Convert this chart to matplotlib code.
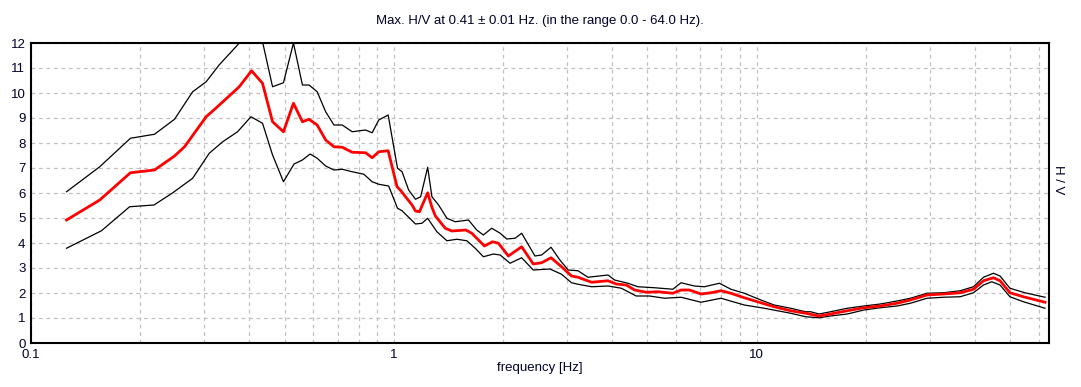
import matplotlib.pyplot as plt
from matplotlib.ticker import FixedLocator, NullFormatter
import numpy as np

# mittlere H/V-Kurve
f_avg = [0.1253, 0.1547, 0.188, 0.219, 0.2487, 0.265, 0.304, 0.3265, 0.375, 0.4055,
         0.4347, 0.4633, 0.4965, 0.529, 0.560, 0.584, 0.615, 0.649, 0.684, 0.721,
         0.768, 0.836, 0.872, 0.909, 0.965, 1.021, 1.042, 1.123, 1.148, 1.177,
         1.240, 1.274, 1.302, 1.387, 1.446, 1.580, 1.641, 1.778, 1.871, 1.943,
         2.070, 2.252, 2.424, 2.556, 2.713, 2.901, 3.09, 3.22, 3.51, 3.896,
         4.108, 4.375, 4.613, 4.966, 5.346, 5.877, 6.195, 6.533, 7.03, 7.49,
         7.98, 8.50, 9.25, 10.06, 11.18, 12.42, 13.66, 14.87, 16.0, 17.78,
         19.77, 21.95, 24.39, 26.55, 29.5, 32.78, 36.41, 39.63, 42.23, 44.98,
         46.9, 49.95, 54.4, 62.4]
hv_avg = [4.92, 5.72, 6.81, 6.92, 7.48, 7.85, 9.05, 9.45, 10.25, 10.89,
          10.39, 8.85, 8.45, 9.59, 8.85, 8.95, 8.72, 8.12, 7.85, 7.83,
          7.63, 7.61, 7.41, 7.65, 7.69, 6.25, 6.12, 5.52, 5.28, 5.25,
          6.01, 5.43, 5.08, 4.59, 4.48, 4.52, 4.39, 3.88, 4.05, 3.99,
          3.48, 3.85, 3.16, 3.21, 3.41, 3.05, 2.68, 2.63, 2.43, 2.49,
          2.36, 2.32, 2.12, 2.03, 2.05, 1.99, 2.12, 2.12, 1.96, 2.01,
          2.09, 1.99, 1.81, 1.65, 1.45, 1.29, 1.19, 1.08, 1.16, 1.29,
          1.41, 1.48, 1.59, 1.72, 1.92, 1.96, 2.01, 2.15, 2.49, 2.61,
          2.49, 2.01, 1.85, 1.63]

# obere Kurve
f_max = [0.1253, 0.1547, 0.188, 0.219, 0.2487, 0.279, 0.304, 0.330, 0.371, 0.4055,
         0.4347, 0.4633, 0.4965, 0.529, 0.560, 0.584, 0.615, 0.649, 0.684, 0.721,
         0.768, 0.836, 0.872, 0.909, 0.965, 1.024, 1.054, 1.099, 1.148, 1.186,
         1.240, 1.274, 1.329, 1.401, 1.477, 1.607, 1.693, 1.766, 1.862, 1.965,
         2.048, 2.160, 2.252, 2.45, 2.556, 2.713, 2.87, 3.025, 3.22, 3.43,
         3.896, 4.06, 4.42, 4.71, 5.24, 5.877, 6.195, 6.74, 7.18, 7.90,
         8.50, 9.25, 10.28, 11.18, 12.42, 13.66, 14.1, 14.87, 16.0, 17.78,
         19.77, 21.95, 24.39, 26.55, 29.5, 32.78, 36.41, 39.63, 42.23, 44.98,
         46.9, 49.95, 54.9, 62.4]
hv_max = [6.05, 7.05, 8.19, 8.35, 8.95, 10.05, 10.45, 11.12, 11.92, 12.6,
          12.05, 10.25, 10.41, 12.0, 10.32, 10.32, 10.05, 9.25, 8.72, 8.72,
          8.45, 8.52, 8.41, 8.92, 9.12, 6.99, 6.85, 6.12, 5.75, 5.85,
          7.03, 5.85, 5.52, 4.99, 4.85, 4.92, 4.52, 4.32, 4.59, 4.39,
          4.16, 4.19, 4.39, 3.48, 3.52, 3.83, 3.32, 2.92, 2.89, 2.63,
          2.72, 2.52, 2.39, 2.25, 2.21, 2.15, 2.41, 2.28, 2.25, 2.39,
          2.15, 1.99, 1.72, 1.52, 1.39, 1.25, 1.25, 1.16, 1.25, 1.39,
          1.48, 1.56, 1.68, 1.79, 1.99, 2.01, 2.09, 2.25, 2.63, 2.79,
          2.68, 2.19, 2.01, 1.83]

# untere Kurve
f_min = [0.1253, 0.1564, 0.187, 0.2183, 0.246, 0.279, 0.310, 0.3377, 0.371, 0.404,
         0.4347, 0.4633, 0.4965, 0.531, 0.560, 0.588, 0.615, 0.649, 0.684, 0.721,
         0.768, 0.827, 0.872, 0.909, 0.968, 1.024, 1.054, 1.148, 1.196, 1.240,
         1.315, 1.401, 1.493, 1.590, 1.677, 1.766, 1.883, 1.965, 2.092, 2.252,
         2.424, 2.695, 2.901, 3.09, 3.22, 3.51, 3.896, 4.24, 4.66, 5.07,
         5.58, 6.195, 7.03, 7.98, 9.25, 10.50, 12.42, 13.66, 14.87, 16.0,
         17.78, 19.77, 21.95, 24.39, 26.55, 29.5, 32.78, 36.41, 39.63, 42.23,
         44.5, 46.9, 49.95, 54.4, 62.4]
hv_min = [3.79, 4.49, 5.45, 5.52, 6.01, 6.59, 7.59, 8.05, 8.45, 9.05,
          8.79, 7.52, 6.45, 7.16, 7.32, 7.56, 7.39, 7.08, 6.92, 6.95,
          6.85, 6.75, 6.45, 6.35, 6.28, 5.39, 5.29, 4.76, 4.79, 4.99,
          4.45, 4.09, 4.15, 4.09, 3.79, 3.45, 3.56, 3.52, 3.19, 3.41,
          2.92, 2.96, 2.75, 2.41, 2.35, 2.25, 2.28, 2.19, 1.88, 1.88,
          1.79, 1.83, 1.63, 1.79, 1.52, 1.39, 1.19, 1.05, 1.01, 1.08,
          1.16, 1.32, 1.41, 1.48, 1.59, 1.79, 1.83, 1.85, 2.01, 2.32,
          2.45, 2.32, 1.85, 1.65, 1.39]

txt = '#00002a'
plt.rcParams['font.family'] = ['Liberation Sans', 'DejaVu Sans']

fig = plt.figure(figsize=(10.81, 3.87), dpi=100)
ax = fig.add_axes([31/1081, 44/387, 1018/1081, 300/387])

ax.plot(f_max, hv_max, color='black', lw=0.9)
ax.plot(f_min, hv_min, color='black', lw=0.9)
ax.plot(f_avg, hv_avg, color='#ff0000', lw=2.0)

ax.set_xscale('log')
ax.set_xlim(0.1, 64)
ax.set_ylim(0, 12)
ax.set_yticks(range(0, 13))
ax.xaxis.set_major_locator(FixedLocator([0.1, 1, 10]))
ax.set_xticklabels(['0.1', '1', '10'])
minors = [m * d for d in (0.1, 1, 10) for m in range(2, 10) if m * d < 64]
ax.xaxis.set_minor_locator(FixedLocator(minors))
ax.xaxis.set_minor_formatter(NullFormatter())

ax.grid(True, which='both', color='#c0c0c0', linestyle=(0, (3, 3)), lw=0.9)
ax.set_axisbelow(True)
ax.tick_params(which='both', length=0, labelsize=9.5, colors=txt, pad=4)
for s in ax.spines.values():
    s.set_linewidth(1.5)
    s.set_color('black')

ax.set_xlabel('frequency [Hz]', fontsize=9.5, color=txt, labelpad=1)
ax.set_title('Max. H/V at 0.41 ± 0.01 Hz. (in the range 0.0 - 64.0 Hz).',
             fontsize=9.5, color=txt, pad=14)
fig.text(1058/1081, 1 - 180/387, 'H / V', rotation=-90, fontsize=9.5,
         color=txt, ha='center', va='center')

plt.savefig('out.png', dpi=100)
